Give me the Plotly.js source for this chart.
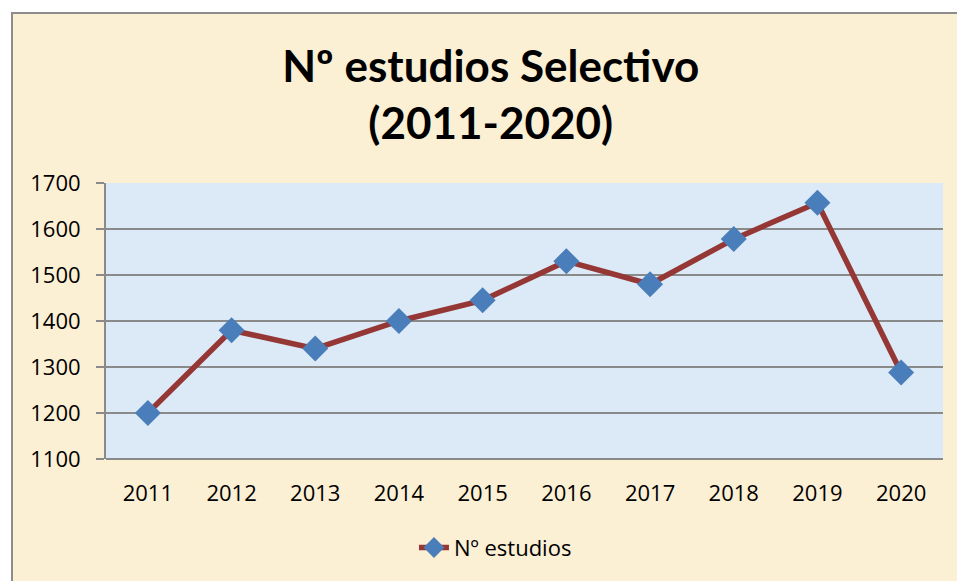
<!DOCTYPE html>
<html>
<head>
<meta charset="utf-8">
<script src="https://cdn.plot.ly/plotly-3.0.1.min.js"></script>
<style>
  html, body { margin: 0; padding: 0; background: #ffffff; width: 957px; height: 581px; overflow: hidden; }
  #frame { position: absolute; left: 11px; top: 12px; width: 946px; height: 569px;
           border-left: 2px solid #8c8c8c; border-top: 2px solid #8c8c8c; }
  #chart { width: 946px; height: 569px; }
</style>
</head>
<body>
<div id="frame"><div id="chart"></div></div>
<script>
const years = ["2011", "2012", "2013", "2014", "2015", "2016", "2017", "2018", "2019", "2020"];
const estudios = [1200, 1380, 1340, 1400, 1445, 1530, 1480, 1578, 1657, 1288];
const seriesName = "Nº estudios";
const chartTitle = "Nº estudios Selectivo<br>(2011-2020)";
const yTicks = [1100, 1200, 1300, 1400, 1500, 1600, 1700];

const trace = {
  x: years,
  y: estudios,
  name: seriesName,
  type: "scatter",
  mode: "lines+markers",
  line: { color: "#953735", width: 5.5 },
  marker: { symbol: "diamond", size: 20, color: "#4A7EBB", line: { width: 0 } },
  showlegend: true
};

const layout = {
  width: 946,
  height: 569,
  margin: { l: 93, r: 16, t: 169, b: 124 },
  paper_bgcolor: "#FBEFD4",
  plot_bgcolor: "#DCE9F6",
  font: { family: "Open Sans, sans-serif", color: "#000000", size: 22 },
  title: {
    text: chartTitle,
    font: { family: "Lato, sans-serif", size: 44, color: "#000000", weight: "bold" },
    xref: "container", x: 0.505, xanchor: "center",
    yref: "container", y: 0.88, yanchor: "middle"
  },
  xaxis: {
    type: "category",
    range: [-0.5, 9.5],
    showgrid: false,
    showline: false,
    zeroline: false,
    ticks: "",
    ticklabelstandoff: 19,
    tickfont: { family: "Open Sans, sans-serif", size: 22, color: "#000000" },
    fixedrange: true
  },
  yaxis: {
    range: [1100, 1700],
    tickvals: yTicks,
    showgrid: true,
    gridcolor: "#8a8a8a",
    gridwidth: 2,
    showline: true,
    linecolor: "#8a8a8a",
    linewidth: 2,
    zeroline: false,
    ticks: "outside",
    ticklen: 8,
    tickwidth: 2,
    tickcolor: "#8a8a8a",
    ticklabelstandoff: 11,
    tickfont: { family: "Open Sans, sans-serif", size: 22, color: "#000000" },
    fixedrange: true
  },
  legend: {
    orientation: "h",
    xref: "container", x: 0.51, xanchor: "center",
    yref: "container", y: 0.062, yanchor: "middle",
    font: { family: "Open Sans, sans-serif", size: 22, color: "#000000" },
    bgcolor: "rgba(0,0,0,0)"
  },
  shapes: [
    { type: "line", xref: "paper", yref: "paper", x0: 0, x1: 1, y0: 0, y1: 0,
      line: { color: "#8a8a8a", width: 2 }, layer: "above" }
  ]
};

Plotly.newPlot("chart", [trace], layout, { displayModeBar: false, staticPlot: true });
</script>
</body>
</html>
